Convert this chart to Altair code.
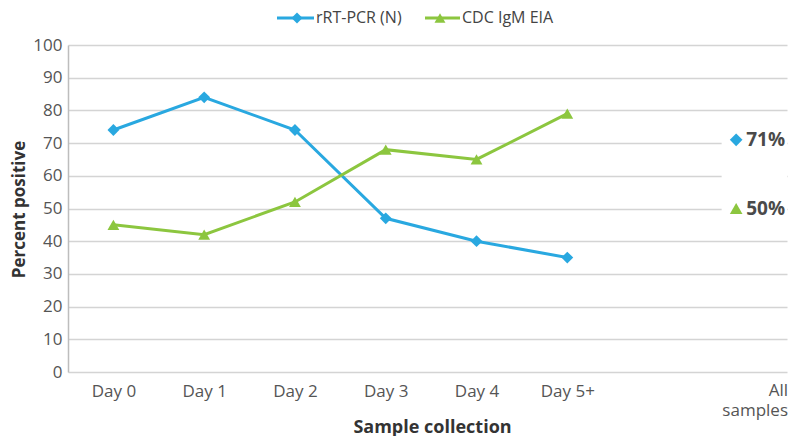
import altair as alt
import pandas as pd

days = ["Day 0", "Day 1", "Day 2", "Day 3", "Day 4", "Day 5+"]
rtpcr = [74, 84, 74, 47, 40, 35]
igm = [45, 42, 52, 68, 65, 79]
series = ["rRT-PCR (N)", "CDC IgM EIA"]
all_samples = [71, 50]
all_lines = ["All", "samples"]
y_ticks = list(range(0, 101, 10))

BLUE = "#29a8e0"
GREEN = "#8cc63f"
FONT = "Open Sans"
TXT = "#555555"

rows = []
for i, d in enumerate(days):
    rows.append({"idx": i, "day": d, "series": series[0], "value": rtpcr[i]})
    rows.append({"idx": i, "day": d, "series": series[1], "value": igm[i]})
df = pd.DataFrame(rows)

xscale = alt.Scale(domain=[-0.5, 7.42], nice=False, zero=False)
yscale = alt.Scale(domain=[0, 100], nice=False)
cscale = alt.Scale(domain=series, range=[BLUE, GREEN])
sscale = alt.Scale(domain=series, range=["diamond", "triangle-up"])

label_expr = "[" + ",".join("'%s'" % d for d in days) + "][datum.value]"

xaxis = alt.Axis(values=list(range(len(days))), labelExpr=label_expr,
                 title="Sample collection", grid=False, ticks=False, domain=False,
                 labelPadding=11, labelFontSize=17, labelColor=TXT, labelFont=FONT,
                 labelOverlap=False,
                 titleFont=FONT, titleFontSize=18, titleFontWeight="bold", titleColor="#333333",
                 titleX=364, titleY=60, titleAlign="center", titleBaseline="alphabetic")
yaxis = alt.Axis(values=y_ticks, title="Percent positive", grid=True, gridColor="#d4d4d4",
                 gridWidth=1.5, ticks=False, domainColor="#bdbdbd", domainWidth=1.5,
                 labelPadding=6, labelFontSize=17, labelColor=TXT, labelFont=FONT,
                 labelOverlap=False,
                 titleFont=FONT, titleFontSize=17, titleFontWeight="bold", titleColor="#333333",
                 titleX=-49, titleY=164, titleAngle=270, titleAlign="center",
                 titleBaseline="middle")

X = lambda f: alt.X(f, scale=xscale, axis=xaxis)
Y = lambda f: alt.Y(f, scale=yscale, axis=yaxis)

base = alt.Chart(df)
lines = base.mark_line(strokeWidth=3).encode(
    x=X("idx:Q"), y=Y("value:Q"),
    color=alt.Color("series:N", scale=cscale, legend=None),
)
points = base.mark_point(filled=True, opacity=1, size=140).encode(
    x=X("idx:Q"), y=Y("value:Q"),
    color=alt.Color("series:N", scale=cscale, legend=None),
    shape=alt.Shape("series:N", scale=sscale, legend=None),
)

# white box behind "All samples" annotations
box_df = pd.DataFrame({"x": [6.7], "x2": [7.42], "y": [46], "y2": [77]})
box = alt.Chart(box_df).mark_rect(color="white").encode(
    x=X("x:Q"), x2="x2:Q", y=Y("y:Q"), y2="y2:Q",
)

ann_df = pd.DataFrame({"series": series, "value": all_samples,
                       "label": ["%d%%" % v for v in all_samples],
                       "px": [6.86, 6.86], "tx": [6.97, 6.97]})
ann_pts = alt.Chart(ann_df).mark_point(filled=True, opacity=1, size=160).encode(
    x=X("px:Q"), y=Y("value:Q"),
    color=alt.Color("series:N", scale=cscale, legend=None),
    shape=alt.Shape("series:N", scale=sscale, legend=None),
)
ann_txt = alt.Chart(ann_df).mark_text(align="left", baseline="middle", font=FONT,
                                      fontSize=19, fontWeight="bold", color="#4a4a4a").encode(
    x=X("tx:Q"), y=Y("value:Q"), text="label:N",
)

# "All samples" category label, two lines under the axis
all_df = pd.DataFrame({"x": [7.42, 7.42], "y": [0, 0], "t": all_lines})
all_l1 = alt.Chart(all_df.iloc[[0]]).mark_text(align="right", baseline="top", dy=11, dx=1,
                                               font=FONT, fontSize=17, color=TXT).encode(
    x=X("x:Q"), y=Y("y:Q"), text="t:N",
)
all_l2 = alt.Chart(all_df.iloc[[1]]).mark_text(align="right", baseline="top", dy=31, dx=1,
                                               font=FONT, fontSize=17, color=TXT).encode(
    x=X("x:Q"), y=Y("y:Q"), text="t:N",
)

# custom legend (pixel positions, top of chart)
leg_df = pd.DataFrame({"series": series, "x1": [209, 357], "x2": [246, 392],
                       "cx": [229, 372], "tx": [248, 394], "y": [-27, -27]})
leg_rule = alt.Chart(leg_df).mark_rule(strokeWidth=3).encode(
    x=alt.X("x1:Q", scale=None), x2="x2:Q", y=alt.Y("y:Q", scale=None),
    color=alt.Color("series:N", scale=cscale, legend=None),
)
leg_pt = alt.Chart(leg_df).mark_point(filled=True, opacity=1, size=120).encode(
    x=alt.X("cx:Q", scale=None), y=alt.Y("y:Q", scale=None),
    color=alt.Color("series:N", scale=cscale, legend=None),
    shape=alt.Shape("series:N", scale=sscale, legend=None),
)
leg_txt = alt.Chart(leg_df).mark_text(align="left", baseline="middle", font=FONT,
                                      fontSize=16, color="#444444").encode(
    x=alt.X("tx:Q", scale=None), y=alt.Y("y:Q", scale=None), text="series:N",
)

chart = alt.layer(lines, points, box, ann_pts, ann_txt, all_l1, all_l2,
                  leg_rule, leg_pt, leg_txt).properties(
    width=719, height=327,
    autosize=alt.AutoSizeParams(type="none"),
    padding={"left": 60, "top": 37, "right": 2, "bottom": 64},
).configure_view(stroke=None)

chart.save("out.html", embed_options={"renderer": "svg", "actions": False})
